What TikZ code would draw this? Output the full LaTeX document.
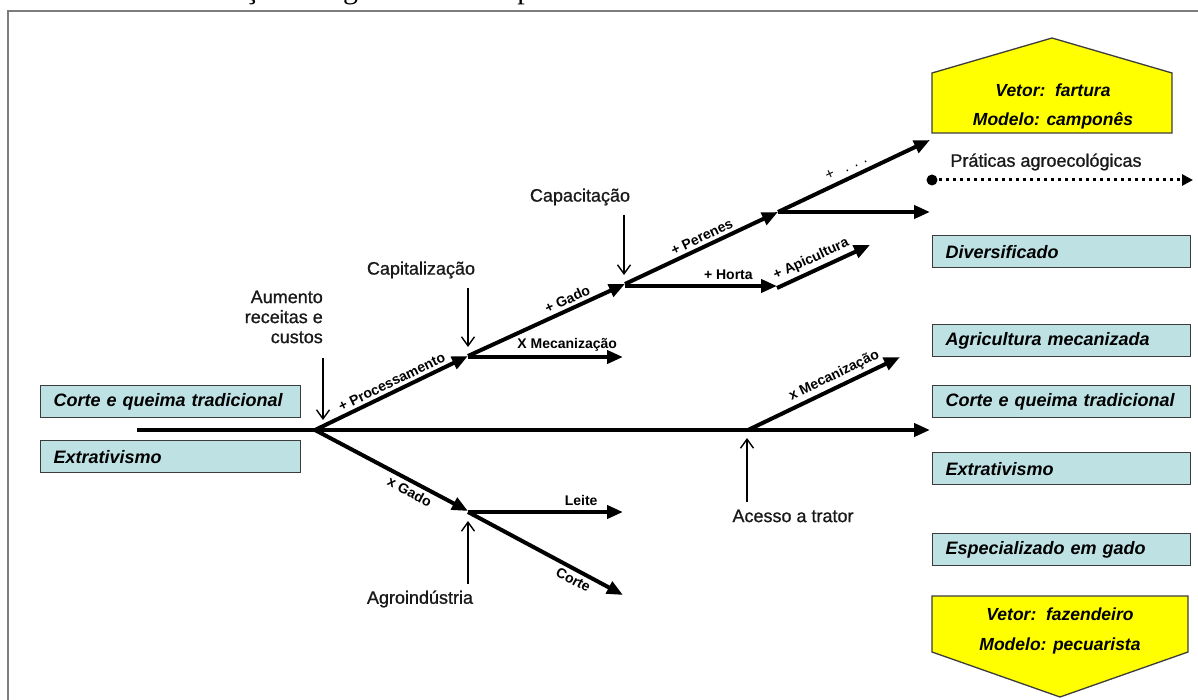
\documentclass[tikz,border=0pt]{standalone}
\usepackage{fontspec}
\setmainfont{Liberation Sans}
\newfontfamily\capserif{Liberation Serif}
\newfontfamily\heavysans[FakeBold=0.9]{Liberation Sans}
\usetikzlibrary{arrows.meta}
\definecolor{boxcyan}{RGB}{190,226,228}
\definecolor{vetoryellow}{RGB}{255,255,0}
\definecolor{framegray}{RGB}{125,125,125}
\definecolor{edgegray}{RGB}{60,60,60}
\begin{document}
\begin{tikzpicture}[x=1pt,y=-1pt,
  flow/.style={line width=4pt,-{Triangle[length=16pt,width=13pt]}},
  pointer/.style={line width=1.4pt,-{Straight Barb[length=9pt,width=13pt]}},
  tag/.style={font=\fontsize{14}{16}\selectfont\bfseries,inner sep=0pt},
  lbl/.style={font=\heavysans\fontsize{18}{20}\selectfont,inner sep=0pt,text=black!90},
  stbox/.style={draw=edgegray,line width=1.3pt,fill=boxcyan,anchor=north west,
    minimum height=32pt,inner xsep=13pt,inner ysep=0pt,align=left,
    font=\fontsize{18}{20}\selectfont\bfseries\itshape},
  vetor/.style={draw=edgegray,line width=1.3pt,fill=vetoryellow},
  vtxt/.style={font=\fontsize{17.5}{20}\selectfont\bfseries\itshape,inner sep=0pt}]
\clip (0,0) rectangle (1198,700);
\fill[white] (0,0) rectangle (1198,700);

% caption line above the frame
\node[anchor=base west,inner sep=0pt,font=\capserif\fontsize{30}{34}\selectfont]
  (cap) at (183,-1.5) {Situação na agricultura camponesa};
% frame
\draw[framegray,line width=2pt] (8,11) rectangle (1240,740);

% starting systems
\node[stbox,text width=234pt] (lcq) at (40,385) {Corte e queima tradicional};
\node[stbox,text width=234pt] (lex) at (40,440) {Extrativismo};

% resulting systems
\node[stbox,text width=232pt] (rdiv) at (932,235) {Diversificado};
\node[stbox,text width=232pt] (ragr) at (932,324) {Agricultura mecanizada};
\node[stbox,text width=232pt] (rcq)  at (932,385) {Corte e queima tradicional};
\node[stbox,text width=232pt] (rex)  at (932,452) {Extrativismo};
\node[stbox,text width=232pt] (resp) at (932,533) {Especializado em gado};

% vectors
\draw[vetor] (932,73) -- (1052,38) -- (1172,73) -- (1172,133) -- (932,133) -- cycle;
\node[vtxt] (vfar) at (1053,90) {Vetor:\ \ fartura};
\node[vtxt] (mcam) at (1053,121) {Modelo: camponês};
\draw[vetor] (932,596) -- (1188,596) -- (1188,652) -- (1060,697) -- (932,652) -- cycle;
\node[vtxt] (vfaz) at (1060,614) {Vetor:\ \ fazendeiro};
\node[vtxt] (mpec) at (1060,646) {Modelo: pecuarista};

% agroecological practices
\node[lbl] (prat) at (1046,162) {Práticas agroecológicas};
\coordinate (dot0) at (932,180);
\coordinate (dot1) at (1193,180);
\fill (dot0) circle (5.5);
\draw[line width=3pt,dash pattern=on 2.5pt off 4.5pt,
  -{Triangle[length=11pt,width=11pt]}] (dot0) -- (dot1);

% junctions
\coordinate (start) at (137,430);
\coordinate (o) at (315,430);
\coordinate (endmain) at (930,430);
\coordinate (p1) at (468,356);
\coordinate (p1b) at (468,357);
\coordinate (mec1) at (623,357);
\coordinate (p2) at (625,284);
\coordinate (p2b) at (625,286);
\coordinate (h3) at (777,286);
\coordinate (h3b) at (777,288);
\coordinate (apic) at (870,245);
\coordinate (p3) at (778,212);
\coordinate (top) at (930,140);
\coordinate (e3) at (930,212);
\coordinate (g1) at (468,511);
\coordinate (g1b) at (468,512);
\coordinate (leite) at (623,512);
\coordinate (corte) at (623,595);
\coordinate (t) at (748,430);
\coordinate (mec2) at (900,357);

% trajectories
\draw[flow] (start) -- (endmain);
\draw[flow] (o) -- node[tag,sloped,above=3pt,pos=.53]{+ Processamento} (p1);
\draw[flow] (p1) -- node[tag,sloped,above=3pt,pos=.66]{+ Gado} (p2);
\draw[flow] (p1b) -- node[tag,above=4pt,pos=.64]{X Mecanização} (mec1);
\draw[flow] (p2) -- node[tag,sloped,above=3pt,pos=.53]{+ Perenes} (p3);
\draw[flow] (p2b) -- node[tag,above=4pt,pos=.68]{+ Horta} (h3);
\draw[flow] (h3b) -- node[tag,sloped,above=3pt,pos=.42]{+ Apicultura} (apic);
\draw[flow] (p3) -- node[sloped,above=5pt,pos=.48,inner sep=0pt,
  font=\fontsize{15}{16}\selectfont]{+\hspace{11pt}.\hspace{6pt}.\hspace{6pt}.} (top);
\draw[flow] (p3) -- (e3);
\draw[flow] (o) -- node[tag,sloped,below=3pt,pos=.65]{x Gado} (g1);
\draw[flow] (g1b) -- node[tag,above=4pt,pos=.73]{Leite} (leite);
\draw[flow] (g1b) -- node[tag,sloped,below=3pt,pos=.71]{Corte} (corte);
\draw[flow] (t) -- node[tag,sloped,above=3pt,pos=.6]{x Mecanização} (mec2);

% drivers
\node[lbl,align=right,anchor=east] (aum) at (323,317) {Aumento\\receitas e\\custos};
\coordinate (aumtail) at (323,358);
\coordinate (aumtip) at (323,420);
\draw[pointer] (aumtail) -- (aumtip);

\node[lbl] (capz) at (421,270) {Capitalização};
\coordinate (captail) at (468,288);
\coordinate (captip) at (468,347);
\draw[pointer] (captail) -- (captip);

\node[lbl] (capa) at (580,197) {Capacitação};
\coordinate (catail) at (624,215);
\coordinate (catip) at (624,275);
\draw[pointer] (catail) -- (catip);

\node[lbl] (agro) at (420,599) {Agroindústria};
\coordinate (agtail) at (468,584);
\coordinate (agtip) at (468,521);
\draw[pointer] (agtail) -- (agtip);

\node[lbl] (trat) at (793,516) {Acesso a trator};
\coordinate (trtail) at (747,502);
\coordinate (trtip) at (747,438);
\draw[pointer] (trtail) -- (trtip);
\end{tikzpicture}
\end{document}
